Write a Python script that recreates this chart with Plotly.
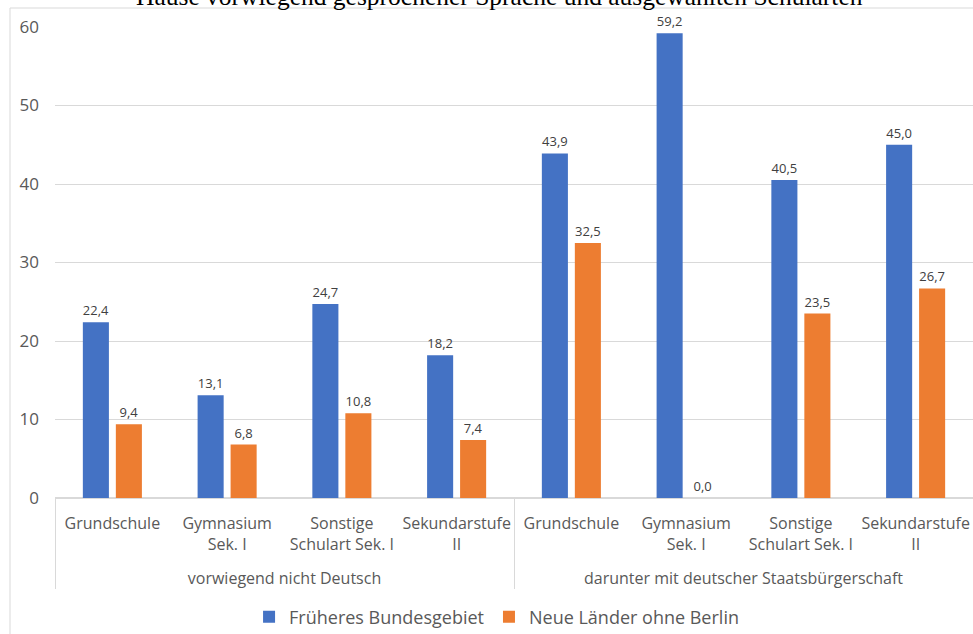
import plotly.graph_objects as go

groups = ["vorwiegend nicht Deutsch"] * 4 + ["darunter mit deutscher Staatsbürgerschaft"] * 4
schularten = ["Grundschule", "Gymnasium<br>Sek. I", "Sonstige<br>Schulart Sek. I", "Sekundarstufe<br>II"] * 2
frueheres = [22.4, 13.1, 24.7, 18.2, 43.9, 59.2, 40.5, 45.0]
neue = [9.4, 6.8, 10.8, 7.4, 32.5, 0.0, 23.5, 26.7]
series_names = ["Früheres Bundesgebiet", "Neue Länder ohne Berlin"]
colors = ["#4472C4", "#ED7D31"]
title_text = "Hause vorwiegend gesprochener Sprache und ausgewählten Schularten"

FONT = "Open Sans"

def pad(label):
    n = label.count("<br>")
    return label + "<br> " * (2 - n)

fig = go.Figure()
for name, vals, col in zip(series_names, [frueheres, neue], colors):
    fig.add_trace(go.Bar(
        x=[groups, [pad(s) for s in schularten]], y=vals, name=name, marker_color=col,
        marker_line_width=0,
        texttemplate="%{y:.1f}", textposition="outside",
        textfont=dict(size=13, color="#404040", family=FONT),
        cliponaxis=False,
    ))

fig.update_layout(
    width=973, height=634,
    margin=dict(l=55, r=0, t=27, b=136, autoexpand=False),
    barmode="group", bargap=0.425, bargroupgap=0.21,
    separators=",.",
    plot_bgcolor="white", paper_bgcolor="white",
    font=dict(family=FONT, color="#595959", size=16),
    legend=dict(orientation="h", x=0.481, xanchor="center", y=-0.253, yanchor="middle",
                font=dict(size=18, color="#595959"), itemwidth=30, traceorder="normal"),
    showlegend=True,
)
fig.update_yaxes(range=[0, 60], dtick=10, gridcolor="#D9D9D9", gridwidth=1,
                 zeroline=True, zerolinecolor="#D9D9D9", showline=False, automargin=False,
                 tickfont=dict(size=17, color="#595959"), ticklabelstandoff=15)
fig.update_xaxes(showline=True, linecolor="#D9D9D9", showdividers=True, dividercolor="#D9D9D9",
                 dividerwidth=1, tickfont=dict(size=16, color="#595959"), ticklabelstandoff=11,
                 tickangle=0, automargin=False)

fig.add_annotation(text=title_text, xref="paper", yref="paper", x=0.484, y=1, yshift=14,
                   xanchor="center", yanchor="bottom", showarrow=False,
                   font=dict(family="Liberation Serif", size=25.5, color="black"))
fig.add_shape(type="rect", xref="paper", yref="paper",
              x0=-45/918, x1=1.1, y0=-0.4, y1=1 + 19/471,
              line=dict(color="#D9D9D9", width=1), fillcolor="rgba(0,0,0,0)", layer="below")

fig.write_html("out.html")
